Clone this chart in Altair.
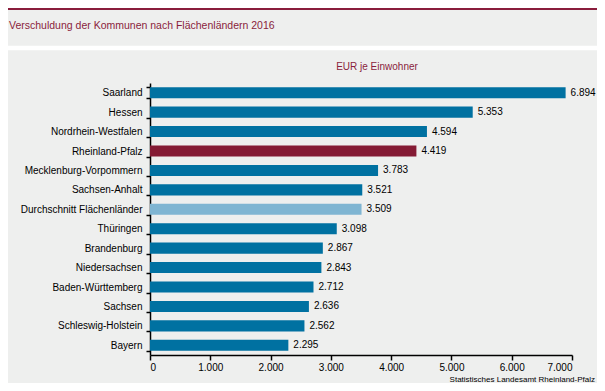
import altair as alt
import pandas as pd

# ---- data ----
lands = ["Saarland", "Hessen", "Nordrhein-Westfalen", "Rheinland-Pfalz",
         "Mecklenburg-Vorpommern", "Sachsen-Anhalt", "Durchschnitt Flächenländer",
         "Thüringen", "Brandenburg", "Niedersachsen", "Baden-Württemberg",
         "Sachsen", "Schleswig-Holstein", "Bayern"]
values = [6894, 5353, 4594, 4419, 3783, 3521, 3509, 3098, 2867, 2843, 2712, 2636, 2562, 2295]
types = ["Land", "Land", "Land", "RLP", "Land", "Land", "Schnitt",
         "Land", "Land", "Land", "Land", "Land", "Land", "Land"]
type_domain = ["Land", "RLP", "Schnitt"]
type_colors = ["#0071a1", "#841b34", "#7fb5d2"]
x_ticks = [0, 1000, 2000, 3000, 4000, 5000, 6000, 7000]

title_text = ["Verschuldung der Kommunen nach Flächenländern 2016"]
subtitle_text = ["EUR je Einwohner"]
source_text = ["Statistisches Landesamt Rheinland-Pfalz"]

RED = "#8a1d3c"
BG = "#eeefee"
FONT = "Liberation Sans"

df = pd.DataFrame({"land": lands, "value": values, "typ": types})

base = alt.Chart(df).encode(
    y=alt.Y("land:N", sort=lands,
            scale=alt.Scale(paddingInner=0.43, paddingOuter=0.215),
            axis=alt.Axis(title=None, tickBand="extent", tickSize=4,
                          labelPadding=4, labelFontSize=10, labelColor="#000000",
                          domainColor="#000000", tickColor="#000000",
                          domainWidth=1.5, tickWidth=1.5, labelFont=FONT))
)

bars = base.mark_bar().encode(
    x=alt.X("value:Q", scale=alt.Scale(domain=[0, 7000], nice=False),
            axis=alt.Axis(title=None, values=x_ticks, tickSize=5, labelPadding=2,
                          labelFontSize=10, labelColor="#000000", grid=False,
                          domainColor="#000000", tickColor="#000000",
                          domainWidth=1.5, tickWidth=1.5, labelFont=FONT,
                          labelExpr="replace(format(datum.value, ','), ',', '.')")),
    color=alt.Color("typ:N", scale=alt.Scale(domain=type_domain, range=type_colors),
                    legend=None),
)

labels = base.mark_text(align="left", baseline="middle", dx=5, fontSize=10,
                        font=FONT, color="#000000").encode(
    x=alt.X("value:Q"),
    text=alt.Text("label:N"),
).transform_calculate(label="replace(format(datum.value, ','), ',', '.')")

red_line = alt.Chart(pd.DataFrame({"a": [0]})).mark_rule(
    color=RED, strokeWidth=2).encode(
    x=alt.value(-142), x2=alt.value(447), y=alt.value(-74))

white_band = alt.Chart(pd.DataFrame({"a": [0]})).mark_rule(
    color="#ffffff", strokeWidth=4.5).encode(
    x=alt.value(-142), x2=alt.value(447), y=alt.value(-35))

title = alt.Chart(pd.DataFrame({"t": title_text})).mark_text(
    align="left", baseline="alphabetic", fontSize=10.5,
    font=FONT, color=RED).encode(
    x=alt.value(-141), y=alt.value(-54), text="t:N")

subtitle = alt.Chart(pd.DataFrame({"t": subtitle_text})).mark_text(
    align="center", baseline="alphabetic", fontSize=10, font=FONT,
    color=RED).encode(
    x=alt.value(227), y=alt.value(-13), text="t:N")

source = alt.Chart(pd.DataFrame({"t": source_text})).mark_text(
    align="right", baseline="alphabetic", fontSize=8, font=FONT,
    color="#000000").encode(
    x=alt.value(445), y=alt.value(299), text="t:N")

chart = alt.layer(red_line, white_band, title, subtitle, source, bars, labels).properties(
    width=422, height=272,
    padding={"left": 142, "top": 75, "right": 25, "bottom": 28},
    autosize="none",
).configure(background=BG).configure_view(stroke=None)

chart.save("out.html", embed_options={"renderer": "svg", "actions": False})
